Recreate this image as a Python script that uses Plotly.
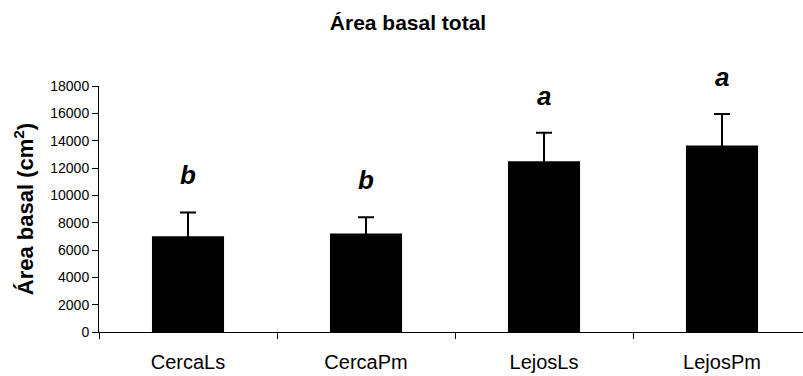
import plotly.graph_objects as go

# Mean total basal area per site/species group, with standard error
categories = ["CercaLs", "CercaPm", "LejosLs", "LejosPm"]
mean_area = [7000, 7200, 12500, 13650]
error_area = [1750, 1200, 2080, 2300]
group_letters = ["b", "b", "a", "a"]

y_ticks = [0, 2000, 4000, 6000, 8000, 10000, 12000, 14000, 16000, 18000]

FONT = "Liberation Sans, Arial, sans-serif"

fig = go.Figure()
fig.add_trace(go.Bar(
    x=categories,
    y=mean_area,
    marker=dict(color="black", line=dict(width=0)),
    error_y=dict(type="data", array=error_area, visible=True,
                 color="black", thickness=2, width=8),
    showlegend=False,
))

# Significance letters above each error bar
for cat, m, e, letter in zip(categories, mean_area, error_area, group_letters):
    fig.add_annotation(
        x=cat, y=m + e, text=f"<b><i>{letter}</i></b>",
        showarrow=False, yanchor="bottom", yshift=20,
        font=dict(family=FONT, size=26, color="black"),
    )

fig.update_layout(
    width=803, height=376,
    margin=dict(l=99, r=0, t=86, b=44),
    paper_bgcolor="white", plot_bgcolor="white",
    bargap=0.595,
    title=dict(text="<b>Área basal total</b>", x=408 / 803, xanchor="center",
               y=1 - 22.5 / 376, yanchor="middle",
               font=dict(family=FONT, size=21, color="black")),
    font=dict(family=FONT, color="black"),
)

fig.update_xaxes(
    type="category",
    range=[-0.5, 3.455],
    showline=True, linecolor="black", linewidth=1,
    ticks="outside", tickson="boundaries", ticklen=6, tickcolor="black",
    ticklabelstandoff=12,
    tickfont=dict(family=FONT, size=20, color="black"),
    showgrid=False, zeroline=False,
)
fig.update_yaxes(
    range=[0, 18000],
    tickvals=y_ticks,
    tickformat="d",
    showline=True, linecolor="black", linewidth=1,
    ticks="outside", ticklen=6, tickcolor="black",
    tickfont=dict(family=FONT, size=14, color="black"),
    showgrid=False, zeroline=False,
    title=dict(text="<b>Área basal (cm<sup>2</sup>)</b>", standoff=10,
               font=dict(family=FONT, size=22, color="black")),
)

fig.write_html("out.html")
